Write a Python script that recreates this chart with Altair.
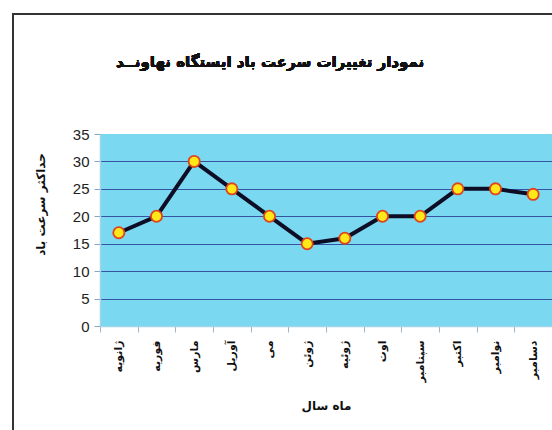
import altair as alt
import pandas as pd

# Monthly maximum wind speed at Nahavand station
months = ["ژانویه", "فوریه", "مارس", "آوریل", "می", "ژوئن",
          "ژوئیه", "اوت", "سپتامبر", "اکتبر", "نوامبر", "دسامبر"]
speeds = [17, 20, 30, 25, 20, 15, 16, 20, 20, 25, 25, 24]
y_ticks = [0, 5, 10, 15, 20, 25, 30, 35]

title_text = "نمودار تغییرات سرعت باد ایستگاه نهاونــد"
x_title = "ماه سال"
y_title = "حداکثر سرعت باد"

df = pd.DataFrame({"month": months, "speed": speeds})

PERSIAN_FONT = "DejaVu Sans"
W, H = 452, 192

x_enc = alt.X(
    "month:N", sort=months,
    scale=alt.Scale(type="band", paddingInner=0, paddingOuter=0),
    axis=alt.Axis(
        title=x_title, titleFont=PERSIAN_FONT, titleFontSize=12,
        titleFontWeight="bold", titleColor="#111", titleY=79,
        titleBaseline="middle",
        labelAngle=270, labelFont=PERSIAN_FONT, labelFontSize=11,
        labelFontWeight="bold", labelColor="#111", labelPadding=8,
        tickBand="extent", tickSize=6, tickColor="#9fb4c4",
        domainColor="#9fd6ea", domainWidth=1.5, grid=False,
    ),
)
y_enc = alt.Y(
    "speed:Q",
    scale=alt.Scale(domain=[0, 35], nice=False, zero=True),
    axis=alt.Axis(
        values=y_ticks, title=y_title, titleFont=PERSIAN_FONT,
        titleFontSize=12, titleFontWeight="bold", titleColor="#111",
        titleX=-60, titleY=70, titleBaseline="middle", titleAlign="center",
        labelFont="Liberation Sans", labelFontSize=15, labelColor="#222",
        labelPadding=5, tickSize=6, tickColor="#8fa6b8",
        domainColor="#9fd6ea", domainWidth=1.5,
        grid=True, gridWidth=1.2,
        gridColor={"condition": {"test": "datum.value <= 0 || datum.value >= 35",
                                 "value": "transparent"},
                   "value": "#3653a3"},
    ),
)

base = alt.Chart(df).encode(x=x_enc, y=y_enc)

line = base.mark_line(color="#0d0d26", strokeWidth=4)
points = base.mark_point(
    filled=True, fill="#ffe81a", stroke="#e0441c", strokeWidth=1.8,
    size=125, opacity=1,
)

# Page title and the outer frame, positioned in pixels around the plot
title = alt.Chart(df).mark_text(
    text=title_text, font=PERSIAN_FONT, fontSize=15, fontWeight="bold",
    color="#111", align="center", baseline="middle",
).encode(x=alt.value(170), y=alt.value(-72))

frame_left = alt.Chart(df).mark_rule(color="#333", strokeWidth=2).encode(
    x=alt.value(-87), y=alt.value(-120), y2=alt.value(300))
frame_top = alt.Chart(df).mark_rule(color="#333", strokeWidth=2).encode(
    x=alt.value(-88), x2=alt.value(W + 5), y=alt.value(-120))

chart = alt.layer(line, points, title, frame_left, frame_top).properties(
    width=W, height=H,
    autosize=alt.AutoSizeParams(type="none"),
    padding={"left": 100, "top": 134, "right": 0, "bottom": 104},
    background="white",
).configure_view(
    fill="#7ad8f0", stroke=None,
)

chart.save("out.html", embed_options={"renderer": "svg", "actions": False})
